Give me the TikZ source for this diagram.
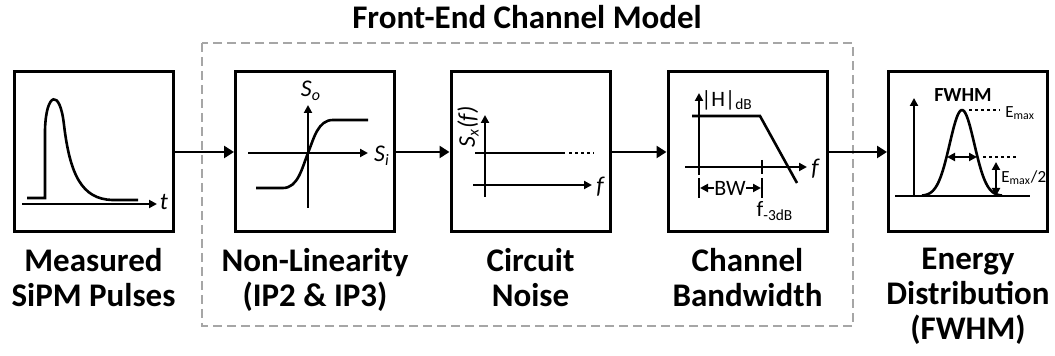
\documentclass[tikz,border=0pt]{standalone}
\usepackage{fontspec}
\setmainfont{Carlito}
\usepackage{tikz}
\usetikzlibrary{arrows.meta,positioning}

\begin{document}
\begin{tikzpicture}[x=0.5pt, y=-0.5pt, >={Triangle[length=4pt,width=4pt]}, font=\fontsize{11}{11}\selectfont]
		\tikzset{block/.style={draw, line width=1.5pt, minimum width=79.5pt, minimum height=80pt, inner sep=0pt},
			caption/.style={align=center, inner sep=0pt, font=\bfseries\fontsize{16.5}{17.5}\selectfont},
			flow/.style={-{Triangle[length=5pt,width=6pt]}, line width=1.3pt},
			axis/.style={->, line width=1.2pt},
			curve/.style={line width=1.3pt},
			dots/.style={line width=1.3pt, dash pattern=on 1.5pt off 1.5pt},
			lbl/.style={inner sep=0pt},
			small/.style={inner sep=0pt, anchor=west, font=\fontsize{8.5}{8.5}\selectfont},
			var/.style={inner sep=0pt, font=\itshape\fontsize{12}{12}\selectfont}}
		\useasboundingbox (0,0) rectangle (1055,356);
		\draw[gray!70, line width=1.2pt, dash pattern=on 4.5pt off 2.5pt] (202,43) rectangle (853,326);
		\node[font=\bfseries\fontsize{16.5}{17.5}\selectfont] (title) at (527,17) {Front-End Channel Model};
		\node[block] (pulse) at (93.5,152) {};
		\node[block] (nonlin) at (315,152) {};
		\node[block] (noise) at (530.5,152) {};
		\node[block] (bandw) at (747.5,152) {};
		\node[block] (energy) at (968,152) {};
		\node[caption, below=7pt of pulse] (pulsecap) {Measured\\SiPM Pulses};
		\node[caption, below=7pt of nonlin] (nonlincap) {Non-Linearity\\(IP2 \& IP3)};
		\node[caption, below=7pt of noise] (noisecap) {Circuit\\Noise};
		\node[caption, below=7pt of bandw] (bandwcap) {Channel\\Bandwidth};
		\node[caption, below=7pt of energy] (energycap) {Energy\\Distribution\\(FWHM)};
		\draw[flow] (pulse) -- (nonlin);
		\draw[flow] (nonlin) -- (noise);
		\draw[flow] (noise) -- (bandw);
		\draw[flow] (bandw) -- (energy);
		% measured pulse
		\draw[axis] (22,204) -- (157,204);
		\node[var] (t) at (164,202) {t};
		\draw[curve] (27,198) -- (45,198) -- (45,130) .. controls (46,92) and (60,88) .. (64,125) .. controls (70,175) and (82,199) .. (112,200) -- (138,200);
		% transfer curve
		\draw[axis] (248,153) -- (368,153);
		\draw[axis] (308,208) -- (308,105);
		\node[var] (si) at (382,156) {S\textsubscript{i}};
		\node[var] (so) at (311,91) {S\textsubscript{o}};
		\draw[curve] (256,188) -- (283,188) .. controls (298,188) and (302,168) .. (308,153) .. controls (314,138) and (318,120) .. (333,120) -- (368,120);
		% noise spectrum
		\draw[axis] (485,197) -- (485,115);
		\draw[axis] (473,185) -- (592,185);
		\draw[curve] (475,153) -- (565,153);
		\draw[dots] (569,153) -- (594,153);
		\node[var, rotate=90] (sx) at (468,127) {S\textsubscript{x}(f)};
		\node[var] (fa) at (600,187) {f};
		% low-pass response
		\draw[axis] (699,175) -- (699,93);
		\draw[axis] (685,167) -- (807,167);
		\draw[curve] (692,116) -- (760,116) -- (797,183);
		\draw[curve] (762,160) -- (762,174);
		\draw[curve] (699,178) -- (699,198);
		\draw[curve] (762,178) -- (762,198);
		\node[lbl] (bw) at (730,188) {BW};
		\draw[->, line width=1pt] (bw.west) -- (700,188);
		\draw[->, line width=1pt] (bw.east) -- (761,188);
		\node[lbl] (hdb) at (727,100) {|H|\textsubscript{dB}};
		\node[var] (fb) at (815,169) {f};
		\node[lbl] (f3db) at (775,211) {f\textsubscript{-3dB}};
		% energy histogram
		\draw[axis] (914,197) -- (914,98);
		\draw[curve] (895,196) -- (1030,196);
		\draw[curve] plot[domain=922:1002, samples=60, smooth] (\x, {196-86*exp(-((\x-962)/12.3)^2/2)});
		\draw[<->, line width=1.2pt] (947,157) -- (977,157);
		\draw[dots] (969,110) -- (1000,110);
		\draw[dots] (983,157) -- (1017,157);
		\draw[<->, line width=1.2pt] (996,162) -- (996,196);
		\node[lbl, font=\bfseries\fontsize{10}{10}\selectfont] (fwhm) at (963,95) {FWHM};
		\node[small] (emax) at (1005,113) {E\textsubscript{max}};
		\node[small] (emaxhalf) at (1001,178) {E\textsubscript{max}/2};
	\end{tikzpicture}
\end{document}
